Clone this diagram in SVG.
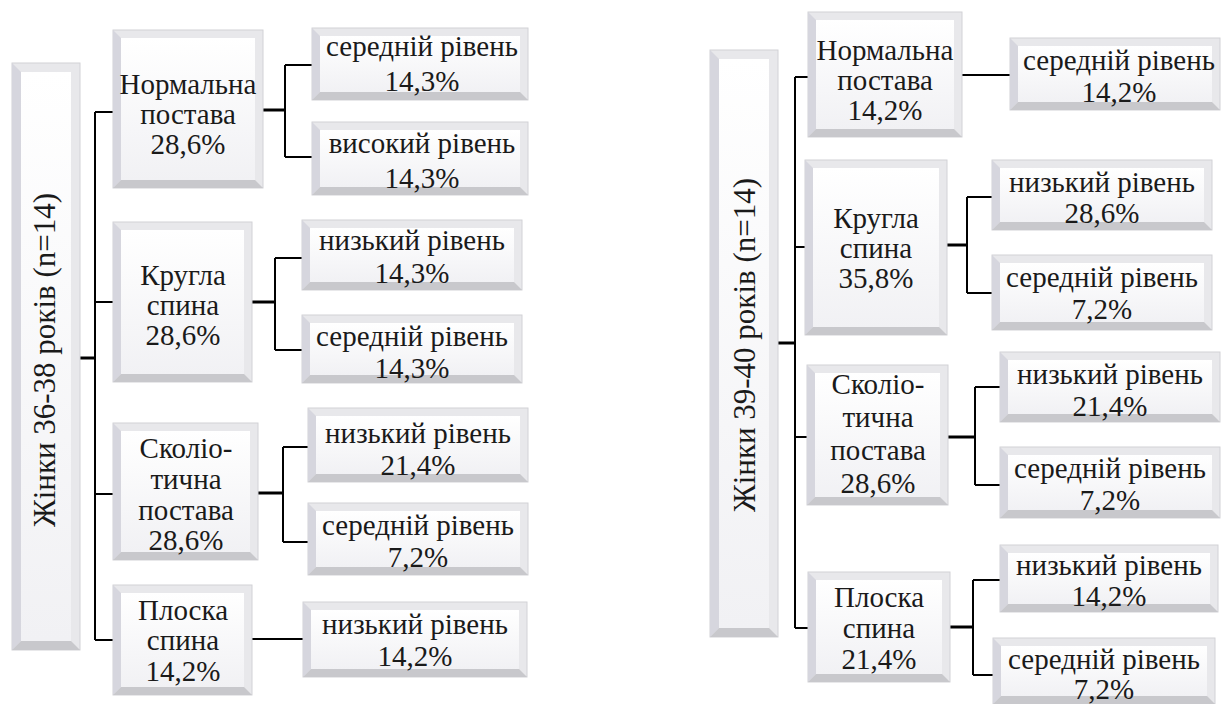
<svg xmlns="http://www.w3.org/2000/svg" width="1223" height="704" viewBox="0 0 1223 704">
<defs>
<linearGradient id="gf" x1="0" y1="0" x2="0" y2="1"><stop offset="0" stop-color="#ffffff"/><stop offset="1" stop-color="#f1f1f4"/></linearGradient>
<style>
.o{fill:#e8e8eb;stroke:#d2d2d6;stroke-width:1}
.l{fill:#d6d6de}
.b{fill:#c8c8cc}
.f{fill:url(#gf)}
text{font-family:"Liberation Serif",Tinos,"Times New Roman",Times,"Nimbus Roman","Noto Serif","DejaVu Serif",FreeSerif,serif;font-size:29px;fill:#1a1a1a;text-anchor:middle}
.r{font-size:31px}
.c path{fill:none;stroke:#000;stroke-width:2}
.c path.s{stroke-width:3}
</style>
</defs>
<rect width="1223" height="704" fill="#ffffff"/>
<g class="c" id="connectors">
<path class="s" d="M80 358H95"/>
<path d="M95 112V640M95 112H113M95 302H113M95 494H113M95 640H113"/>
<path class="s" d="M263 110H285"/><path d="M285 65V157M285 65H312M285 157H312"/>
<path class="s" d="M252 302H275"/><path d="M275 258V350M275 258H302M275 350H302"/>
<path class="s" d="M258 493H283"/><path d="M283 447V542M283 447H308M283 542H308"/>
<path d="M252 639H303"/>
<path class="s" d="M778 343H795"/>
<path d="M795 77V628M795 77H808M795 247H805M795 437H807M795 628H808"/>
<path d="M962 75H1010"/>
<path class="s" d="M947 245H967"/><path d="M967 197V293M967 197H992M967 293H992"/>
<path class="s" d="M948 437H975"/><path d="M975 387V485M975 387H1000M975 485H1000"/>
<path class="s" d="M950 627H973"/><path d="M973 580V675M973 580H1000M973 675H993"/>
</g>
<g id="root-left"><rect class="o" x="12" y="63" width="68" height="587"/><path class="l" d="M12 63L21 72V641L12 650Z"/><path class="b" d="M12 650L21 641H71L80 650Z"/><rect class="f" x="21" y="72" width="50" height="569"/>
<text class="r" transform="translate(55,360) rotate(-90)">Жінки 36-38 років (n=14)</text></g>
<g id="l-n1"><rect class="o" x="113" y="30" width="150" height="158"/><path class="l" d="M113 30L121 38V180L113 188Z"/><path class="b" d="M113 188L121 180H255L263 188Z"/><rect class="f" x="121" y="38" width="134" height="142"/>
<text x="188" y="94">Нормальна</text><text x="188" y="124">постава</text><text x="188" y="154">28,6%</text></g>
<g id="l-n2"><rect class="o" x="113" y="222" width="139" height="160"/><path class="l" d="M113 222L121 230V374L113 382Z"/><path class="b" d="M113 382L121 374H244L252 382Z"/><rect class="f" x="121" y="230" width="123" height="144"/>
<text x="183" y="285">Кругла</text><text x="183" y="315">спина</text><text x="183" y="345">28,6%</text></g>
<g id="l-n3"><rect class="o" x="113" y="423" width="145" height="137"/><path class="l" d="M113 423L121 431V552L113 560Z"/><path class="b" d="M113 560L121 552H250L258 560Z"/><rect class="f" x="121" y="431" width="129" height="121"/>
<text x="186" y="458">Сколіо-</text><text x="186" y="489">тична</text><text x="186" y="520">постава</text><text x="186" y="550">28,6%</text></g>
<g id="l-n4"><rect class="o" x="113" y="585" width="139" height="110"/><path class="l" d="M113 585L121 593V687L113 695Z"/><path class="b" d="M113 695L121 687H244L252 695Z"/><rect class="f" x="121" y="593" width="123" height="94"/>
<text x="183" y="620">Плоска</text><text x="183" y="650">спина</text><text x="183" y="681">14,2%</text></g>
<g id="l-c1a"><rect class="o" x="312" y="28" width="216" height="72"/><path class="l" d="M312 28L320 36V92L312 100Z"/><path class="b" d="M312 100L320 92H520L528 100Z"/><rect class="f" x="320" y="36" width="200" height="56"/>
<text x="422" y="56">середній рівень</text><text x="422" y="91">14,3%</text></g>
<g id="l-c1b"><rect class="o" x="312" y="122" width="216" height="73"/><path class="l" d="M312 122L320 130V187L312 195Z"/><path class="b" d="M312 195L320 187H520L528 195Z"/><rect class="f" x="320" y="130" width="200" height="57"/>
<text x="422" y="153">високий рівень</text><text x="422" y="188">14,3%</text></g>
<g id="l-c2a"><rect class="o" x="302" y="220" width="220" height="70"/><path class="l" d="M302 220L310 228V282L302 290Z"/><path class="b" d="M302 290L310 282H514L522 290Z"/><rect class="f" x="310" y="228" width="204" height="54"/>
<text x="412" y="250">низький рівень</text><text x="412" y="283">14,3%</text></g>
<g id="l-c2b"><rect class="o" x="302" y="315" width="220" height="68"/><path class="l" d="M302 315L310 323V375L302 383Z"/><path class="b" d="M302 383L310 375H514L522 383Z"/><rect class="f" x="310" y="323" width="204" height="52"/>
<text x="412" y="346">середній рівень</text><text x="412" y="378">14,3%</text></g>
<g id="l-c3a"><rect class="o" x="308" y="408" width="220" height="74"/><path class="l" d="M308 408L316 416V474L308 482Z"/><path class="b" d="M308 482L316 474H520L528 482Z"/><rect class="f" x="316" y="416" width="204" height="58"/>
<text x="418" y="443">низький рівень</text><text x="418" y="475">21,4%</text></g>
<g id="l-c3b"><rect class="o" x="308" y="503" width="220" height="72"/><path class="l" d="M308 503L316 511V567L308 575Z"/><path class="b" d="M308 575L316 567H520L528 575Z"/><rect class="f" x="316" y="511" width="204" height="56"/>
<text x="418" y="535">середній рівень</text><text x="418" y="567">7,2%</text></g>
<g id="l-c4"><rect class="o" x="303" y="602" width="224" height="75"/><path class="l" d="M303 602L311 610V669L303 677Z"/><path class="b" d="M303 677L311 669H519L527 677Z"/><rect class="f" x="311" y="610" width="208" height="59"/>
<text x="415" y="634">низький рівень</text><text x="415" y="666">14,2%</text></g>
<g id="root-right"><rect class="o" x="710" y="50" width="68" height="587"/><path class="l" d="M710 50L719 59V628L710 637Z"/><path class="b" d="M710 637L719 628H769L778 637Z"/><rect class="f" x="719" y="59" width="50" height="569"/>
<text class="r" transform="translate(755,345) rotate(-90)">Жінки 39-40 років (n=14)</text></g>
<g id="r-n1"><rect class="o" x="808" y="12" width="154" height="125"/><path class="l" d="M808 12L816 20V129L808 137Z"/><path class="b" d="M808 137L816 129H954L962 137Z"/><rect class="f" x="816" y="20" width="138" height="109"/>
<text x="885" y="60">Нормальна</text><text x="885" y="90">постава</text><text x="885" y="120">14,2%</text></g>
<g id="r-n2"><rect class="o" x="805" y="160" width="142" height="175"/><path class="l" d="M805 160L813 168V327L805 335Z"/><path class="b" d="M805 335L813 327H939L947 335Z"/><rect class="f" x="813" y="168" width="126" height="159"/>
<text x="876" y="228">Кругла</text><text x="876" y="258">спина</text><text x="876" y="288">35,8%</text></g>
<g id="r-n3"><rect class="o" x="807" y="365" width="141" height="140"/><path class="l" d="M807 365L815 373V497L807 505Z"/><path class="b" d="M807 505L815 497H940L948 505Z"/><rect class="f" x="815" y="373" width="125" height="124"/>
<text x="878" y="394">Сколіо-</text><text x="878" y="427">тична</text><text x="878" y="460">постава</text><text x="878" y="493">28,6%</text></g>
<g id="r-n4"><rect class="o" x="808" y="572" width="142" height="110"/><path class="l" d="M808 572L816 580V674L808 682Z"/><path class="b" d="M808 682L816 674H942L950 682Z"/><rect class="f" x="816" y="580" width="126" height="94"/>
<text x="879" y="607">Плоска</text><text x="879" y="638">спина</text><text x="879" y="669">21,4%</text></g>
<g id="r-c1"><rect class="o" x="1010" y="38" width="210" height="72"/><path class="l" d="M1010 38L1018 46V102L1010 110Z"/><path class="b" d="M1010 110L1018 102H1212L1220 110Z"/><rect class="f" x="1018" y="46" width="194" height="56"/>
<text x="1119" y="70">середній рівень</text><text x="1119" y="102">14,2%</text></g>
<g id="r-c2a"><rect class="o" x="992" y="160" width="220" height="70"/><path class="l" d="M992 160L1000 168V222L992 230Z"/><path class="b" d="M992 230L1000 222H1204L1212 230Z"/><rect class="f" x="1000" y="168" width="204" height="54"/>
<text x="1102" y="192">низький рівень</text><text x="1102" y="223">28,6%</text></g>
<g id="r-c2b"><rect class="o" x="992" y="255" width="220" height="75"/><path class="l" d="M992 255L1000 263V322L992 330Z"/><path class="b" d="M992 330L1000 322H1204L1212 330Z"/><rect class="f" x="1000" y="263" width="204" height="59"/>
<text x="1102" y="287">середній рівень</text><text x="1102" y="319">7,2%</text></g>
<g id="r-c3a"><rect class="o" x="1000" y="352" width="220" height="70"/><path class="l" d="M1000 352L1008 360V414L1000 422Z"/><path class="b" d="M1000 422L1008 414H1212L1220 422Z"/><rect class="f" x="1008" y="360" width="204" height="54"/>
<text x="1110" y="384">низький рівень</text><text x="1110" y="416">21,4%</text></g>
<g id="r-c3b"><rect class="o" x="1000" y="447" width="220" height="71"/><path class="l" d="M1000 447L1008 455V510L1000 518Z"/><path class="b" d="M1000 518L1008 510H1212L1220 518Z"/><rect class="f" x="1008" y="455" width="204" height="55"/>
<text x="1110" y="478">середній рівень</text><text x="1110" y="510">7,2%</text></g>
<g id="r-c4a"><rect class="o" x="1000" y="545" width="218" height="67"/><path class="l" d="M1000 545L1008 553V604L1000 612Z"/><path class="b" d="M1000 612L1008 604H1210L1218 612Z"/><rect class="f" x="1008" y="553" width="202" height="51"/>
<text x="1109" y="575">низький рівень</text><text x="1109" y="606">14,2%</text></g>
<g id="r-c4b"><rect class="o" x="993" y="638" width="222" height="66"/><path class="l" d="M993 638L1001 646V696L993 704Z"/><path class="b" d="M993 704L1001 696H1207L1215 704Z"/><rect class="f" x="1001" y="646" width="206" height="50"/>
<text x="1104" y="669">середній рівень</text><text x="1104" y="699">7,2%</text></g>
</svg>
